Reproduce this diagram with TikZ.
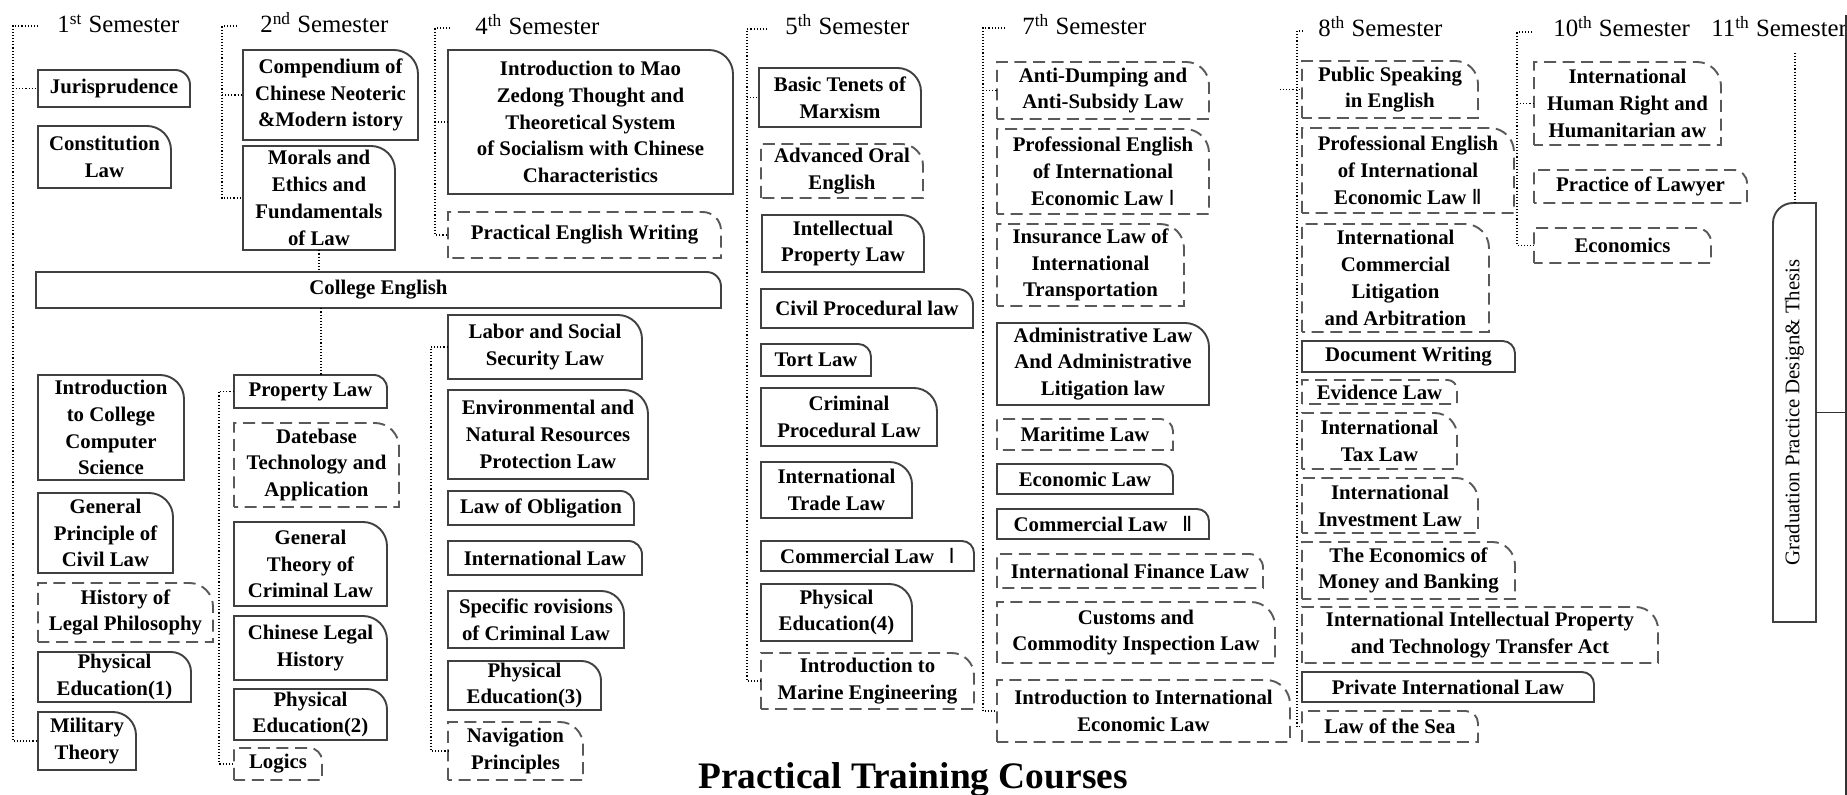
\documentclass[tikz,border=0pt]{standalone}
\usepackage{fontspec}
\setmainfont{Liberation Serif}
\newfontfamily\rnfont{DejaVu Sans}
\usetikzlibrary{calc}
\newcommand\boxfont{\fontsize{10.4}{13.4}\selectfont\bfseries}
\newcommand\headfont{\fontsize{12.4}{14}\selectfont}
\newcommand\romone{{\rnfont\mdseries Ⅰ}}
\newcommand\romtwo{{\rnfont\mdseries Ⅱ}}
% #1 name, #2 style, #3 x1, #4 y1, #5 x2, #6 y2 (pixels, y downwards), #7 text
\newcommand\crsbox[7]{%
  \pgfmathsetmacro\crr{min(0.4*(#6-#4),24)}%
  \node[boxtext, minimum width={(#5-#3)*0.5pt}, minimum height={(#6-#4)*0.5pt}] (#1) at ({(#3+#5)/2},{-(#4+#6)/2}) {#7};
  \draw[#2] (#3,-#6) -- (#3,-#4) -- ({#5-\crr},-#4) arc[start angle=90,end angle=0,radius=\crr] -- (#5,-#6) -- cycle;
}
\begin{document}
\begin{tikzpicture}[x=0.5pt,y=0.5pt,
  boxtext/.style={inner sep=0pt, align=center, font=\boxfont, text=black},
  solidbox/.style={draw=black!75, line width=0.95pt},
  dashbox/.style={draw=black!65, line width=0.95pt, dash pattern=on 6pt off 3.3pt},
  bracket/.style={draw=black, line width=0.55pt, densely dotted},
  head/.style={inner sep=0pt, anchor=base west, font=\headfont},
]
\useasboundingbox (0,0) rectangle (1847,-795);
\fill[white] (0,0) rectangle (1847,-795);

% ---------- semester headings ----------
\node[head] (h1) at (57,-33) {1\textsuperscript{st} Semester};
\node[head] (h2) at (260,-33) {2\textsuperscript{nd} Semester};
\node[head] (h4) at (475,-35) {4\textsuperscript{th} Semester};
\node[head] (h5) at (785,-35) {5\textsuperscript{th} Semester};
\node[head] (h7) at (1022,-35) {7\textsuperscript{th} Semester};
\node[head] (h8) at (1318,-37) {8\textsuperscript{th} Semester};
\node[head] (h10) at (1553,-37) {10\textsuperscript{th} Semester};
\node[head] (h11) at (1711,-37) {11\textsuperscript{th} Semester};

% ---------- 1st semester ----------
\crsbox{jur}{solidbox}{38}{70}{190}{107}{Jurisprudence}
\crsbox{const}{solidbox}{38}{126}{171}{188}{Constitution\\Law}
\crsbox{colleng}{solidbox}{36}{272}{721}{308}{College English}
\crsbox{intro}{solidbox}{38}{375}{184}{480}{Introduction\\to College\\Computer\\Science}
\crsbox{gpcl}{solidbox}{38}{493}{173}{573}{General\\Principle of\\Civil Law}
\crsbox{hlp}{dashbox}{38}{583}{213}{642}{History of\\Legal Philosophy}
\crsbox{pea}{solidbox}{38}{652}{191}{702}{Physical\\Education(1)}
\crsbox{mil}{solidbox}{38}{712}{136}{770}{Military\\Theory}

% ---------- 2nd semester ----------
\crsbox{comp}{solidbox}{243}{50}{418}{140}{Compendium of\\Chinese Neoteric\\\&Modern istory}
\crsbox{morals}{solidbox}{243}{146}{395}{250}{Morals and\\Ethics and\\Fundamentals\\of Law}
\crsbox{prop}{solidbox}{234}{375}{387}{408}{Property Law}
\crsbox{dbt}{dashbox}{234}{423}{399}{507}{Datebase\\Technology and\\Application}
\crsbox{gtcl}{solidbox}{234}{522}{387}{606}{General\\Theory of\\Criminal Law}
\crsbox{clh}{solidbox}{234}{616}{387}{680}{Chinese Legal\\History}
\crsbox{peb}{solidbox}{234}{689}{387}{740}{Physical\\Education(2)}
\crsbox{logics}{dashbox}{234}{748}{322}{780}{Logics}

% ---------- 4th semester ----------
\crsbox{mao}{solidbox}{448}{50}{733}{194}{Introduction to Mao\\Zedong Thought and\\Theoretical System\\of Socialism with Chinese\\Characteristics}
\crsbox{pew}{dashbox}{448}{212}{721}{258}{Practical English Writing}
\crsbox{labor}{solidbox}{448}{315}{642}{379}{Labor and Social\\Security Law}
\crsbox{env}{solidbox}{448}{390}{648}{479}{Environmental and\\Natural Resources\\Protection Law}
\crsbox{obl}{solidbox}{448}{491}{634}{525}{Law of Obligation}
\crsbox{intl}{solidbox}{448}{541}{642}{575}{International Law}
\crsbox{spc}{solidbox}{448}{591}{624}{648}{Specific rovisions\\of Criminal Law}
\crsbox{pec}{solidbox}{448}{661}{601}{710}{Physical\\Education(3)}
\crsbox{nav}{dashbox}{448}{722}{583}{780}{Navigation\\Principles}

% ---------- 5th semester ----------
\crsbox{btm}{solidbox}{759}{68}{921}{127}{Basic Tenets of\\Marxism}
\crsbox{aoe}{dashbox}{761}{144}{923}{198}{Advanced Oral\\English}
\crsbox{ipl}{solidbox}{762}{215}{924}{272}{Intellectual\\Property Law}
\crsbox{cpl}{solidbox}{761}{289}{973}{328}{Civil Procedural law}
\crsbox{tort}{solidbox}{761}{344}{871}{376}{Tort Law}
\crsbox{crpl}{solidbox}{761}{388}{937}{446}{Criminal\\Procedural Law}
\crsbox{itl}{solidbox}{761}{462}{912}{518}{International\\Trade Law}
\crsbox{coma}{solidbox}{761}{541}{974}{571}{Commercial Law\hspace{0.7em}\romone}
\crsbox{ped}{solidbox}{761}{584}{912}{641}{Physical\\Education(4)}
\crsbox{ime}{dashbox}{761}{653}{974}{709}{Introduction to\\Marine Engineering}

% ---------- 7th semester ----------
\crsbox{adl}{dashbox}{997}{62}{1209}{119}{Anti-Dumping and\\Anti-Subsidy Law}
\crsbox{peia}{dashbox}{997}{129}{1209}{214}{Professional English\\of International\\Economic Law \romone}
\crsbox{ins}{dashbox}{997}{224}{1184}{306}{Insurance Law of\\International\\Transportation}
\crsbox{adm}{solidbox}{997}{323}{1209}{405}{Administrative Law\\And Administrative\\Litigation law}
\crsbox{mar}{dashbox}{997}{419}{1173}{450}{Maritime Law}
\crsbox{eco}{solidbox}{997}{464}{1173}{494}{Economic Law}
\crsbox{comb}{solidbox}{997}{509}{1209}{539}{Commercial Law\hspace{0.7em}\romtwo}
\crsbox{ifl}{dashbox}{997}{554}{1263}{588}{International Finance Law}
\crsbox{cus}{dashbox}{997}{602}{1275}{663}{Customs and\\Commodity Inspection Law}
\crsbox{iiel}{dashbox}{997}{680}{1290}{742}{Introduction to International\\Economic Law}

% ---------- 8th semester ----------
\crsbox{pse}{dashbox}{1302}{61}{1478}{118}{Public Speaking\\in English}
\crsbox{peib}{dashbox}{1302}{128}{1514}{213}{Professional English\\of International\\Economic Law \romtwo}
\crsbox{icla}{dashbox}{1302}{224}{1489}{332}{International\\Commercial\\Litigation\\and Arbitration}
\crsbox{doc}{solidbox}{1302}{341}{1515}{372}{Document Writing}
\crsbox{evi}{dashbox}{1302}{380}{1457}{404}{Evidence Law}
\crsbox{itax}{dashbox}{1302}{413}{1457}{469}{International\\Tax Law}
\crsbox{iinv}{dashbox}{1302}{478}{1478}{533}{International\\Investment Law}
\crsbox{emb}{dashbox}{1302}{542}{1515}{599}{The Economics of\\Money and Banking}
\crsbox{iip}{dashbox}{1302}{607}{1658}{663}{International Intellectual Property\\and Technology Transfer Act}
\crsbox{pil}{solidbox}{1302}{672}{1594}{702}{Private International Law}
\crsbox{los}{dashbox}{1302}{711}{1478}{742}{Law of the Sea}

% ---------- 10th semester ----------
\crsbox{hr}{dashbox}{1534}{62}{1721}{145}{International\\Human Right and\\Humanitarian aw}
\crsbox{pol}{dashbox}{1534}{170}{1747}{203}{Practice of Lawyer}
\crsbox{econ}{dashbox}{1534}{228}{1711}{263}{Economics}

% ---------- 11th semester: graduation ----------
\node[inner sep=0pt, minimum width=21.5pt, minimum height=209.5pt] (grad) at (1794.5,-412.5) {};
\draw[solidbox] (1816,-622) -- (1816,-203) -- (1793,-203) arc[start angle=90,end angle=180,radius=20] -- (1773,-622) -- cycle;
\node[rotate=90, inner sep=0pt, font=\fontsize{10.4}{12}\selectfont] (gradtxt) at (grad.center) {Graduation Practice Design\& Thesis};

% ---------- title ----------
\node[inner sep=0pt, anchor=base west, font=\fontsize{18.7}{22}\selectfont\bfseries] (ptc) at (698,-789) {Practical Training Courses};

% ---------- brackets ----------
\coordinate (b1) at (13,-26); \coordinate (e1) at (38,-26);
\draw[bracket] (e1) -- (b1) |- (mil.west);
\draw[bracket] (b1 |- jur.west) -- (jur.west);

\coordinate (b2) at (222,-26); \coordinate (e2) at (237,-26);
\draw[bracket] (e2) -- (b2) |- (morals.west);
\draw[bracket] (b2 |- comp.west) -- (comp.west);
\draw[bracket] (morals.south) -- (morals.south |- colleng.north);
\coordinate (c2) at (321,0);
\draw[bracket] (c2 |- colleng.south) -- (c2 |- prop.north);
\coordinate (b2b) at (219,0);
\draw[bracket] (prop.west) -- (b2b |- prop.west) |- (logics.west);

\coordinate (b4) at (435,-28); \coordinate (e4) at (450,-28);
\draw[bracket] (e4) -- (b4) |- (pew.west);
\draw[bracket] (b4 |- mao.west) -- (mao.west);
\coordinate (b4b) at (431,0);
\draw[bracket] (labor.west) -- (b4b |- labor.west) |- (nav.west);

\coordinate (b5) at (747,-29); \coordinate (e5) at (767,-29);
\draw[bracket] (e5) -- (b5) |- (ime.west);
\draw[bracket] (b5 |- btm.west) -- (btm.west);

\coordinate (b7) at (983,-28); \coordinate (e7) at (1005,-28);
\draw[bracket] (e7) -- (b7) |- (iiel.west);
\draw[bracket] (b7 |- adl.west) -- (adl.west);

\coordinate (b8) at (1297,-31); \coordinate (e8) at (1303,-31);
\draw[bracket] (e8) -- (b8) |- (los.west);
\coordinate (t8) at (1280,0);
\draw[bracket] (t8 |- pse.west) -- (pse.west);

\coordinate (b10) at (1517,-32); \coordinate (e10) at (1532,-32);
\draw[bracket] (e10) -- (b10) |- (econ.west);
\draw[bracket] (b10 |- hr.west) -- (hr.west);

\coordinate (e11) at (1795,-53);
\draw[bracket] (e11) -- (e11 |- grad.north);

\coordinate (r1) at (1846,-15); \coordinate (r2) at (1846,-795);
\draw[black!80, line width=0.9pt] (r1) -- (r2);
\draw[black!80, line width=0.9pt] (grad.east) -- (grad.east -| r1);
\end{tikzpicture}
\end{document}
